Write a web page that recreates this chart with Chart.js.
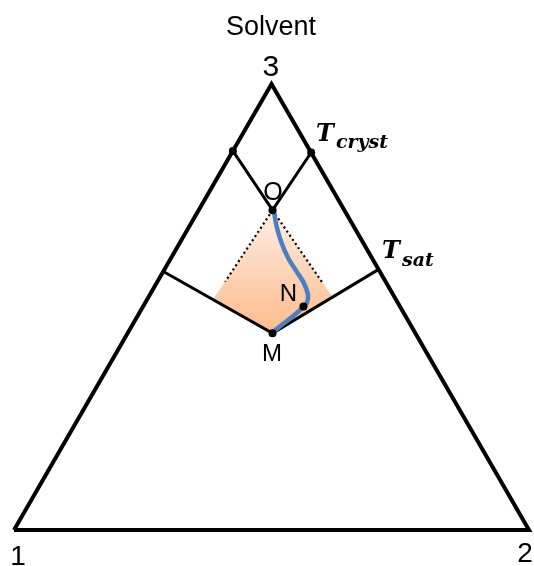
<!DOCTYPE html>
<html>
<head>
<meta charset="utf-8">
<script src="https://cdn.jsdelivr.net/npm/chart.js@4.4.1/dist/chart.umd.min.js"></script>
<style>
  html, body { margin: 0; padding: 0; background: #ffffff; }
  #wrap { width: 534px; height: 566px; }
</style>
</head>
<body>
<div id="wrap"><canvas id="c" width="534" height="566"></canvas></div>
<script>
// ---- Data (diagram units: triangle side = 1) ----
const triangle = [
  {x: 0, y: 0}, {x: 1, y: 0}, {x: 0.5, y: 0.866}, {x: 0, y: 0}
];
const crystLine = [
  {x: 0.425, y: 0.736}, {x: 0.502, y: 0.621}, {x: 0.577, y: 0.733}
];
const satLine = [
  {x: 0.290, y: 0.502}, {x: 0.502, y: 0.382}, {x: 0.708, y: 0.506}
];
const dottedLeft = [ {x: 0.502, y: 0.621}, {x: 0.410, y: 0.482} ];
const dottedRight = [ {x: 0.502, y: 0.621}, {x: 0.599, y: 0.480} ];
const region = [
  {x: 0.502, y: 0.621}, {x: 0.386, y: 0.447}, {x: 0.502, y: 0.382},
  {x: 0.619, y: 0.452}, {x: 0.502, y: 0.621}
];
const pathCurve = [
  {x: 0.5049, y: 0.6181}, {x: 0.5101, y: 0.5889}, {x: 0.5198, y: 0.5567},
  {x: 0.5326, y: 0.5276}, {x: 0.5489, y: 0.5016}, {x: 0.5631, y: 0.4790},
  {x: 0.5709, y: 0.4563}, {x: 0.5683, y: 0.4402}, {x: 0.5606, y: 0.4317},
  {x: 0.5423, y: 0.4155}, {x: 0.5198, y: 0.3981}, {x: 0.5035, y: 0.3850}
];
const keyPoints = [
  {x: 0.425, y: 0.736}, {x: 0.577, y: 0.733}, {x: 0.502, y: 0.621},
  {x: 0.562, y: 0.434}, {x: 0.502, y: 0.382}
];
const labelText = ['Solvent', '3', '1', '2', 'O', 'N', 'M'];
const labelX = [0.499, 0.4985, 0.0078, 0.9922, 0.503, 0.533, 0.501];
const labelY = [0.961, 0.8816, -0.068, -0.0616, 0.641, 0.4456, 0.3272];
const tempMain = ['T', 'T'];
const tempSub = ['cryst', 'sat'];
const tempMainX = [0.5863, 0.7145];
const tempMainY = [0.7544, 0.5276];
const tempSubX = [0.6252, 0.7534];
const tempSubY = [0.7408, 0.5117];

// ---- Styles ----
const labelFonts = ['27px "Liberation Sans", Arial, sans-serif',
  '30px "Liberation Sans", Arial, sans-serif',
  '28px "Liberation Sans", Arial, sans-serif',
  '28px "Liberation Sans", Arial, sans-serif',
  '25px "Liberation Sans", Arial, sans-serif',
  '24px "Liberation Sans", Arial, sans-serif',
  '24px "Liberation Sans", Arial, sans-serif'];

const textPlugin = {
  id: 'textLabels',
  afterDraw(chart) {
    const ctx = chart.ctx;
    const xs = chart.scales.x, ys = chart.scales.y;
    ctx.save();
    ctx.fillStyle = '#000000';
    ctx.textBaseline = 'alphabetic';
    ctx.textAlign = 'center';
    labelText.forEach((t, i) => {
      ctx.font = labelFonts[i];
      ctx.fillText(t, xs.getPixelForValue(labelX[i]), ys.getPixelForValue(labelY[i]));
    });
    ctx.textAlign = 'left';
    tempMain.forEach((t, i) => {
      ctx.font = 'italic bold 24px "DejaVu Serif", serif';
      ctx.fillText(t, xs.getPixelForValue(tempMainX[i]), ys.getPixelForValue(tempMainY[i]));
      ctx.font = 'italic bold 19px "DejaVu Serif", serif';
      ctx.fillText(tempSub[i], xs.getPixelForValue(tempSubX[i]), ys.getPixelForValue(tempSubY[i]));
    });
    ctx.restore();
  }
};

function regionFill(context) {
  const chart = context.chart;
  if (!chart.chartArea) return '#fcd2b2';
  const ys = chart.scales.y;
  const top = ys.getPixelForValue(region[0].y);
  const bottom = ys.getPixelForValue(region[2].y);
  const g = chart.ctx.createLinearGradient(0, top, 0, bottom);
  g.addColorStop(0, '#fdeee4');
  g.addColorStop(1, '#fbbb8c');
  return g;
}

const lineBase = { showLine: true, pointRadius: 0, borderColor: '#000000', backgroundColor: '#000000', tension: 0, fill: false };

new Chart(document.getElementById('c'), {
  type: 'scatter',
  data: {
    datasets: [
      Object.assign({}, lineBase, { data: region, borderWidth: 0, borderColor: 'rgba(0,0,0,0)', backgroundColor: regionFill, fill: 'shape', order: 10 }),
      Object.assign({}, lineBase, { data: dottedLeft, borderWidth: 2.2, borderDash: [2, 3], order: 9 }),
      Object.assign({}, lineBase, { data: dottedRight, borderWidth: 2.2, borderDash: [2, 3], order: 9 }),
      Object.assign({}, lineBase, { data: triangle, borderWidth: 4, borderJoinStyle: 'miter', order: 5 }),
      Object.assign({}, lineBase, { data: crystLine, borderWidth: 3, order: 5 }),
      Object.assign({}, lineBase, { data: satLine, borderWidth: 3, order: 5 }),
      Object.assign({}, lineBase, { data: pathCurve, borderWidth: 4.5, borderColor: '#4a7fc1', tension: 0.4, borderCapStyle: 'round', order: 2 }),
      { data: keyPoints, showLine: false, pointRadius: 4, pointBackgroundColor: '#000000', pointBorderWidth: 0, order: 1 }
    ]
  },
  options: {
    responsive: false,
    animation: false,
    events: [],
    layout: { autoPadding: false, padding: { left: 14, right: 5, top: 84, bottom: 36 } },
    scales: {
      x: { type: 'linear', min: 0, max: 1, display: false },
      y: { type: 'linear', min: 0, max: 0.866, display: false }
    },
    plugins: { legend: { display: false }, tooltip: { enabled: false } },
    clip: false
  },
  plugins: [textPlugin]
});
</script>
</body>
</html>
